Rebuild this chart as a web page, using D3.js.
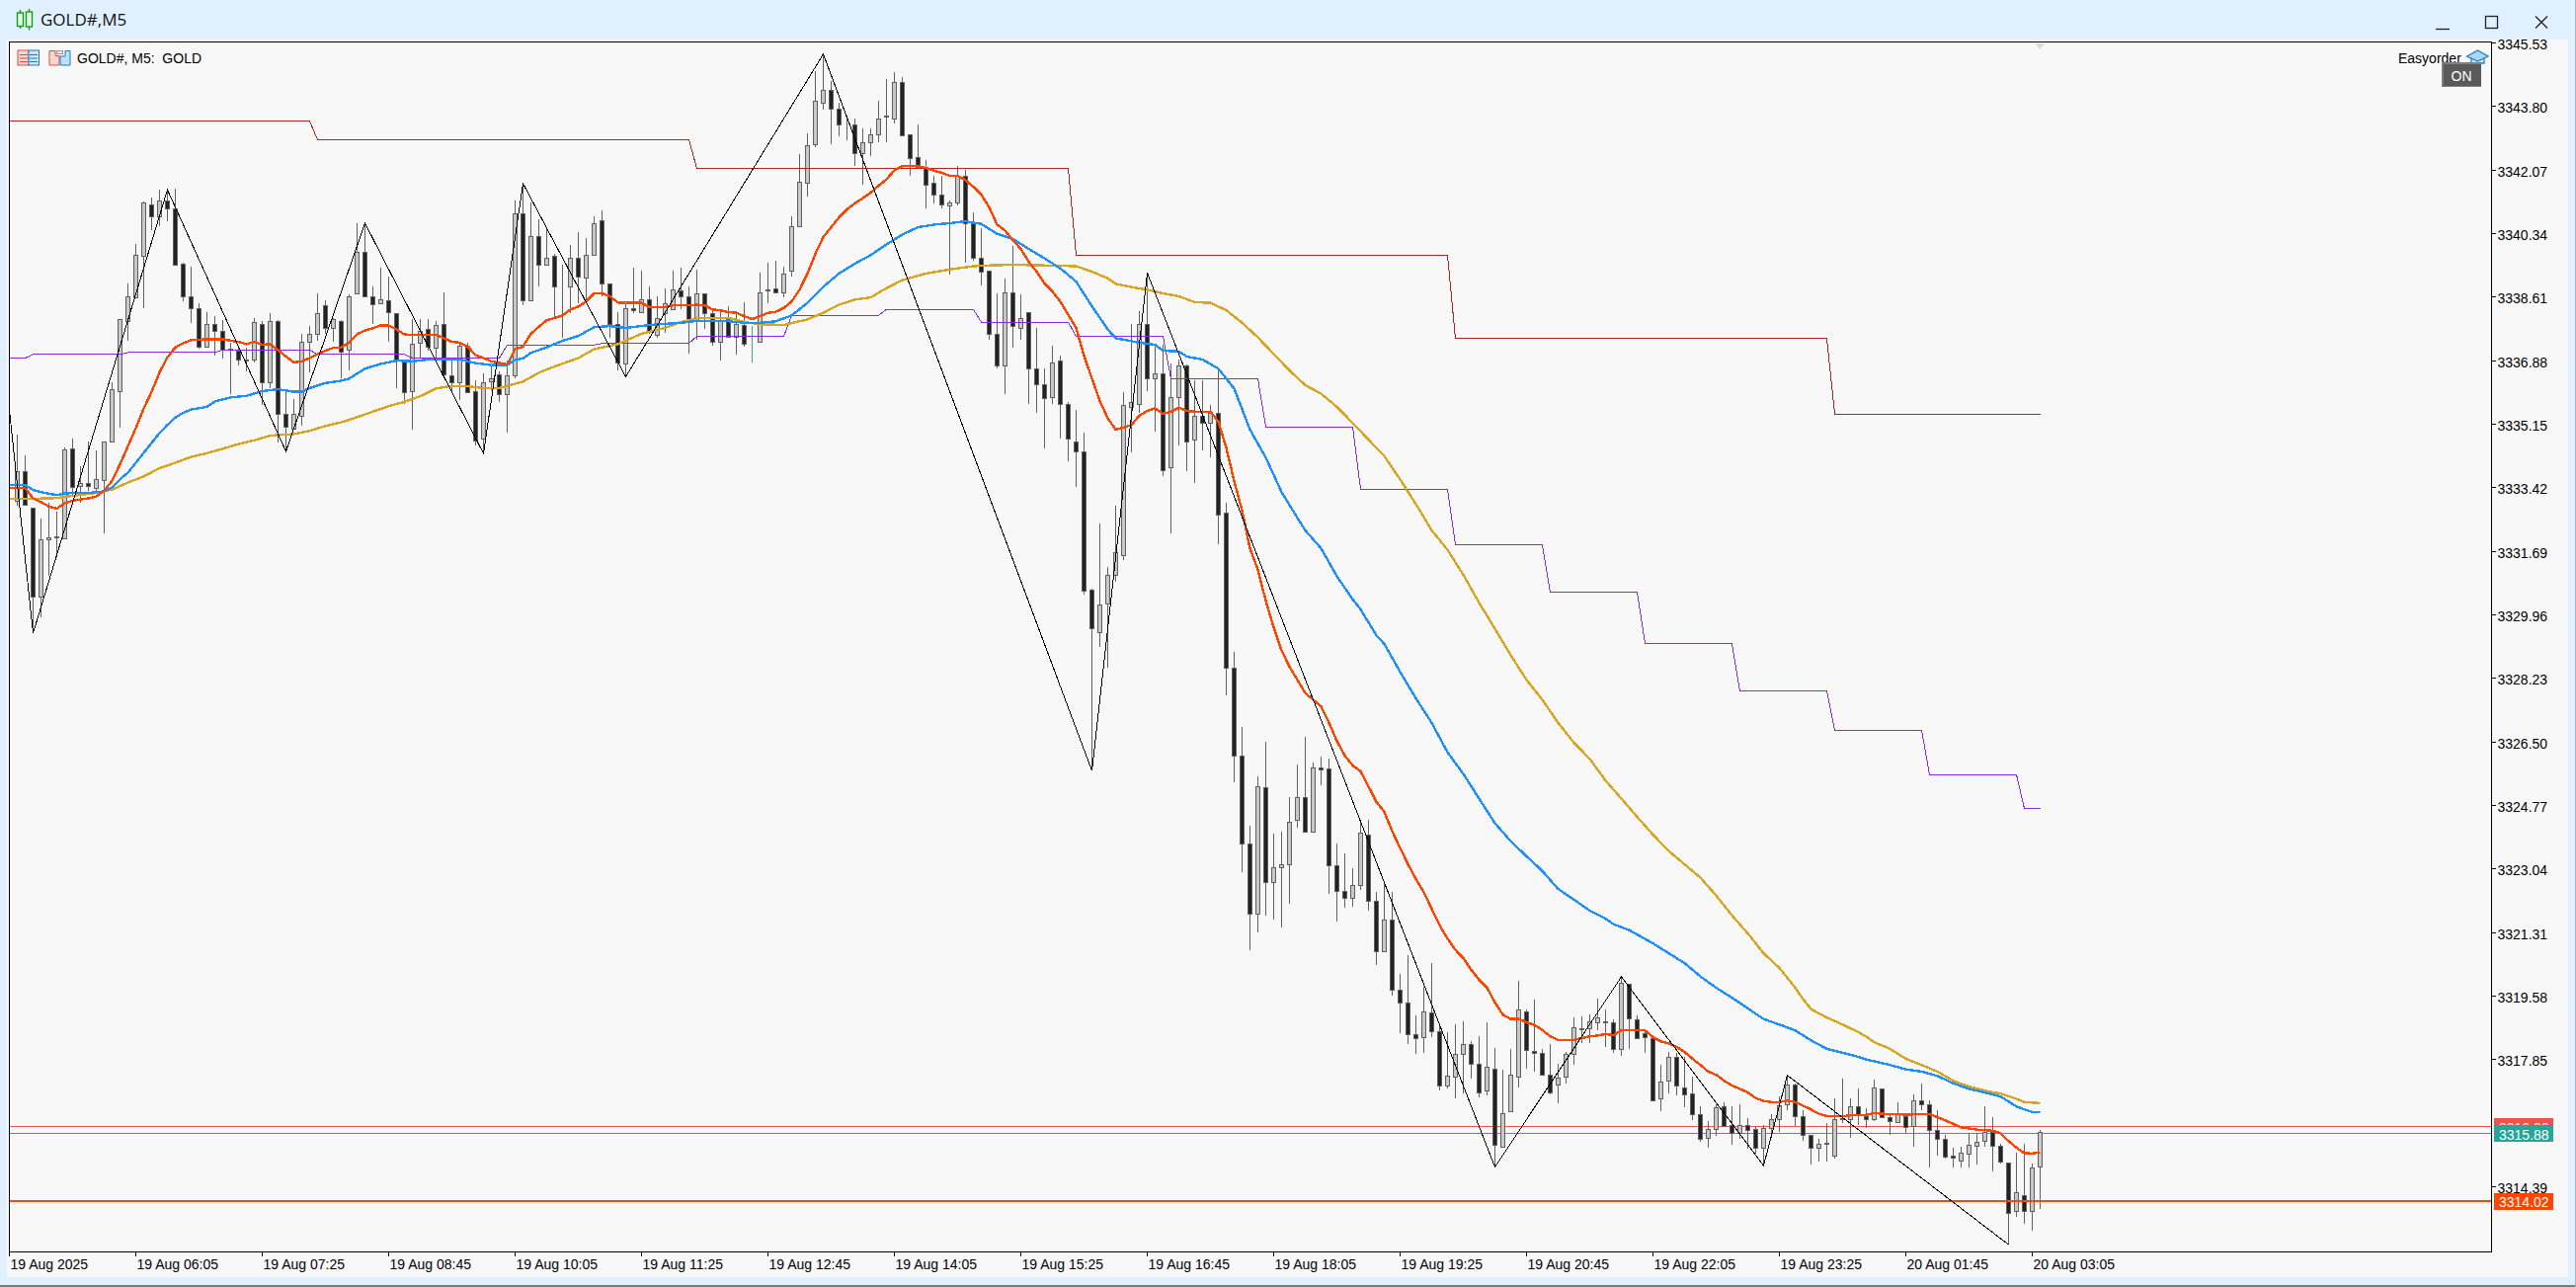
<!DOCTYPE html>
<html>
<head>
<meta charset="utf-8">
<title>GOLD#,M5</title>
<script src="https://cdn.jsdelivr.net/npm/d3@7/dist/d3.min.js"></script>
<style>
  html, body { margin: 0; padding: 0; background: #e0f0ff; overflow: hidden; }
  svg { display: block; }
  text { font-family: "Liberation Sans", Arial, sans-serif; font-size: 14px; fill: #000; }
</style>
</head>
<body>
<svg id="chart" width="2608" height="1303"></svg>
<script>
// Bars are numbered from the left edge of the window; bar 0 sits on the frame and is not drawn.
const firstBar = 1;
const opens = [
3333.07,3333.88,3332.87,3330.45,3332.01,3332.06,3332.05,3334.48,3333.46,3333.54,
3333.42,3333.63,3334.67,3336.05,3337.96,3338.61,3339.74,3341.14,3340.82,3341.25,
3341.03,3339.52,3338.64,3338.30,3337.26,3337.87,3337.70,3337.20,3337.15,3336.92,
3336.92,3337.87,3336.28,3337.97,3335.42,3335.04,3335.39,3337.40,3337.62,3338.38,
3337.77,3337.97,3337.17,3338.71,3339.83,3338.64,3338.43,3338.51,3338.16,3336.90,
3336.06,3337.37,3337.73,3337.24,3337.89,3336.48,3336.30,3337.28,3336.06,3334.75,
3336.32,3336.50,3335.96,3336.47,3340.89,3338.51,3340.27,3339.50,3339.72,3338.91,
3338.89,3339.69,3339.13,3339.77,3340.69,3338.97,3337.89,3336.79,3338.30,3338.21,
3338.56,3337.57,3338.16,3338.27,3338.78,3338.62,3337.97,3338.70,3338.16,3337.38,
3338.00,3337.54,3337.84,3337.39,3337.38,3338.78,3338.85,3338.75,3339.32,3340.53,
3341.71,3342.76,3343.91,3344.26,3343.73,3343.32,3343.32,3342.54,3342.81,3343.05,
3343.51,3343.48,3344.45,3343.03,3342.41,3342.14,3341.71,3341.41,3341.09,3341.17,
3341.90,3340.62,3339.69,3339.32,3337.60,3336.74,3338.75,3337.78,3338.19,3336.66,
3336.23,3335.88,3336.87,3335.71,3334.69,3334.42,3330.65,3329.48,3330.26,3331.04,
3331.58,3335.63,3335.71,3337.89,3336.41,3336.52,3333.99,3335.88,3336.74,3334.72,
3335.37,3335.18,3335.45,3332.73,3328.51,3326.12,3323.75,3321.82,3325.26,3322.70,
3323.08,3323.16,3324.37,3324.99,3324.05,3325.82,3325.77,3323.14,3322.44,3322.25,
3322.60,3323.99,3322.19,3320.80,3321.66,3319.76,3319.40,3318.54,3318.46,3319.13,
3318.62,3317.14,3317.38,3318.00,3318.27,3317.73,3317.01,3317.62,3315.49,3316.44,
3317.38,3319.18,3318.08,3318.03,3317.44,3317.17,3317.38,3318.00,3318.68,3318.70,
3318.86,3318.91,3318.86,3318.14,3319.91,3318.94,3318.57,3318.43,3316.79,3317.28,
3317.92,3317.11,3316.93,3316.36,3315.72,3315.96,3316.58,3316.07,3315.85,3316.07,
3315.96,3315.45,3315.99,3316.23,3316.63,3317.19,3316.33,3315.80,3315.45,3315.56,
3315.23,3316.23,3316.25,3316.58,3316.33,3316.23,3317.06,3316.28,3316.15,3316.33,
3316.04,3316.74,3316.63,3315.93,3315.69,3315.23,3315.10,3315.29,3315.50,3315.64,
3315.88,3315.50,3315.05,3313.73,3314.18,3313.73,3314.94];
const highs = [
3334.86,3334.30,3332.87,3332.58,3333.01,3332.77,3334.51,3334.76,3334.00,3334.67,
3334.43,3334.67,3336.30,3338.02,3338.98,3340.05,3341.21,3341.31,3341.54,3341.53,
3341.56,3339.54,3339.43,3338.44,3338.20,3338.09,3337.98,3337.37,3337.23,3337.24,
3338.04,3337.95,3338.17,3337.98,3336.07,3335.83,3337.62,3337.82,3338.70,3338.52,
3338.04,3337.98,3338.67,3340.62,3340.62,3338.89,3339.41,3339.16,3338.17,3336.91,
3338.01,3338.02,3338.02,3337.95,3338.73,3336.97,3337.34,3337.37,3336.34,3336.53,
3336.74,3336.58,3336.88,3341.23,3341.70,3341.18,3340.73,3340.46,3339.79,3339.48,
3340.04,3340.37,3340.21,3340.80,3340.96,3338.97,3338.20,3338.45,3339.41,3339.34,
3338.89,3338.63,3338.85,3339.32,3339.41,3338.91,3339.36,3338.71,3338.22,3338.22,
3338.36,3338.22,3338.46,3337.82,3339.27,3339.54,3339.59,3339.43,3340.80,3342.50,
3343.06,3344.76,3345.22,3344.49,3343.91,3343.51,3343.46,3343.21,3343.21,3343.94,
3344.54,3344.74,3344.60,3343.04,3343.30,3342.34,3341.91,3341.90,3341.25,3342.17,
3342.07,3340.91,3340.48,3339.32,3338.71,3339.10,3339.99,3338.67,3338.20,3337.76,
3336.66,3337.28,3337.01,3335.74,3335.53,3334.91,3330.67,3332.44,3331.26,3332.92,
3336.01,3337.87,3338.22,3339.27,3337.28,3337.30,3336.79,3336.91,3336.77,3336.34,
3336.34,3335.67,3336.66,3333.00,3328.95,3326.91,3324.22,3325.56,3326.50,3324.00,
3324.07,3324.99,3325.88,3326.64,3325.95,3326.10,3326.06,3323.75,3323.47,3323.06,
3324.29,3324.38,3322.41,3322.68,3322.41,3320.19,3320.69,3319.05,3319.83,3320.48,
3318.78,3318.60,3318.81,3318.91,3318.35,3318.49,3318.87,3318.17,3317.57,3318.15,
3320.01,3319.23,3319.50,3318.15,3318.29,3317.75,3318.06,3319.00,3319.03,3319.08,
3319.51,3319.21,3318.96,3320.12,3319.92,3319.05,3318.65,3318.44,3317.71,3318.06,
3318.04,3317.93,3317.39,3316.58,3316.18,3316.63,3316.70,3316.58,3316.63,3316.27,
3316.03,3316.07,3316.36,3316.85,3317.41,3317.20,3316.49,3315.80,3315.69,3316.14,
3316.79,3317.33,3316.79,3317.06,3316.52,3317.30,3317.07,3316.40,3316.69,3316.36,
3316.90,3317.20,3316.75,3316.49,3315.82,3315.45,3315.48,3315.87,3315.87,3316.58,
3316.29,3315.56,3315.06,3315.31,3315.56,3315.02,3315.93];
const lows = [
3332.93,3332.94,3329.46,3329.89,3331.02,3331.56,3332.04,3333.17,3333.01,3333.33,
3333.25,3332.17,3334.66,3335.06,3337.42,3338.60,3338.31,3340.43,3340.55,3340.67,
3339.49,3338.49,3337.91,3337.20,3337.25,3337.01,3336.93,3335.97,3336.74,3336.58,
3336.82,3335.67,3336.13,3334.65,3334.41,3335.04,3335.11,3336.56,3337.42,3337.61,
3337.40,3336.39,3336.61,3338.71,3338.64,3337.87,3338.43,3337.40,3336.12,3335.71,
3335.00,3336.93,3337.15,3336.93,3336.48,3336.05,3335.80,3336.02,3334.58,3334.35,
3336.07,3335.74,3334.91,3336.39,3338.40,3338.50,3338.89,3339.50,3338.04,3337.51,
3338.18,3338.45,3338.45,3339.76,3338.63,3337.51,3336.61,3336.44,3338.16,3338.18,
3337.61,3337.51,3337.64,3338.25,3338.27,3337.06,3337.46,3337.75,3337.28,3336.88,
3337.54,3337.03,3337.26,3336.83,3337.38,3338.45,3338.71,3338.61,3339.18,3340.52,
3341.35,3342.68,3343.71,3342.78,3342.99,3342.88,3342.17,3341.66,3342.46,3342.82,
3342.82,3343.33,3343.00,3341.92,3342.12,3341.03,3341.16,3341.03,3339.21,3341.09,
3339.54,3339.61,3338.93,3337.44,3336.66,3335.98,3337.22,3337.46,3335.69,3335.45,
3334.48,3335.69,3334.77,3334.14,3333.45,3330.52,3325.72,3329.08,3328.52,3330.85,
3331.46,3334.39,3335.46,3336.05,3334.94,3333.74,3332.17,3334.58,3333.88,3333.54,
3334.44,3334.24,3331.89,3327.77,3325.41,3322.96,3320.84,3321.31,3321.78,3321.67,
3321.46,3322.09,3324.18,3324.04,3324.04,3325.32,3322.36,3321.60,3321.99,3322.02,
3322.48,3321.91,3320.44,3320.77,3319.61,3318.58,3318.29,3318.00,3318.04,3318.48,
3317.01,3317.08,3316.79,3316.94,3317.34,3316.83,3316.87,3314.93,3315.46,3316.44,
3317.10,3317.61,3317.53,3317.43,3316.90,3316.67,3317.21,3317.71,3318.30,3318.30,
3318.65,3318.20,3318.04,3317.97,3318.15,3318.43,3318.04,3316.76,3316.45,3316.94,
3316.87,3316.57,3316.20,3315.62,3315.46,3315.78,3316.04,3315.54,3315.70,3315.42,
3315.29,3314.97,3315.78,3315.89,3316.49,3316.05,3315.64,3315.00,3315.08,3315.08,
3315.17,3316.14,3315.73,3316.07,3316.00,3316.17,3316.28,3315.81,3316.12,3315.87,
3315.49,3316.49,3314.93,3315.24,3315.15,3314.93,3314.93,3314.93,3315.00,3315.49,
3314.82,3315.02,3312.82,3313.58,3313.40,3313.21,3313.79];
const closes = [
3333.86,3332.95,3330.45,3332.01,3332.06,3332.11,3334.45,3333.45,3333.55,3333.46,
3333.65,3334.67,3336.09,3338.00,3338.63,3339.77,3341.17,3340.82,3341.25,3341.03,
3339.50,3338.64,3338.30,3337.26,3337.87,3337.70,3337.17,3337.17,3336.92,3336.89,
3337.94,3336.28,3337.97,3335.42,3335.07,3335.42,3337.40,3337.62,3338.18,3337.76,
3338.00,3337.13,3338.64,3339.83,3338.64,3338.42,3338.54,3338.20,3336.90,3336.03,
3337.35,3337.70,3337.26,3337.84,3336.50,3336.30,3337.28,3336.03,3334.71,3336.30,
3336.41,3335.96,3336.48,3340.89,3338.51,3340.27,3339.48,3339.69,3338.91,3338.89,
3339.67,3339.16,3339.75,3340.63,3338.97,3337.89,3336.82,3338.30,3338.24,3338.56,
3337.70,3338.03,3338.43,3338.81,3338.62,3338.00,3338.70,3338.16,3337.38,3337.97,
3337.54,3337.87,3337.35,3337.39,3338.74,3338.83,3338.75,3339.26,3340.53,3341.74,
3342.73,3343.94,3344.24,3343.75,3343.30,3343.30,3342.54,3342.81,3343.05,3343.48,
3343.54,3344.45,3343.00,3342.38,3342.15,3341.68,3341.39,3341.12,3341.17,3341.90,
3340.62,3339.67,3339.29,3337.60,3336.74,3338.75,3337.81,3338.03,3336.66,3336.25,
3335.85,3336.84,3335.71,3334.75,3334.42,3330.61,3329.59,3330.23,3331.06,3331.66,
3335.66,3335.74,3337.87,3336.41,3336.52,3333.91,3335.90,3336.76,3334.69,3335.37,
3335.18,3335.45,3332.70,3328.51,3326.12,3323.75,3321.84,3325.29,3322.68,3323.08,
3323.16,3324.34,3324.99,3324.05,3325.82,3325.74,3323.14,3322.44,3322.27,3322.60,
3324.02,3322.19,3320.82,3321.66,3319.75,3319.40,3318.54,3318.43,3319.16,3318.62,
3317.14,3317.41,3318.00,3318.27,3317.73,3316.95,3317.65,3315.53,3316.41,3317.44,
3319.21,3318.11,3318.05,3317.44,3316.95,3317.36,3318.00,3318.73,3318.71,3318.89,
3319.00,3318.86,3318.14,3319.94,3318.97,3318.43,3318.46,3316.76,3317.25,3317.92,
3317.14,3316.90,3316.36,3315.69,3315.96,3316.55,3316.04,3315.85,3316.07,3315.93,
3315.45,3315.99,3316.25,3316.60,3317.19,3316.33,3315.80,3315.45,3315.56,3315.59,
3316.25,3316.27,3316.58,3316.36,3316.23,3317.11,3316.28,3316.17,3316.36,3316.01,
3316.76,3316.63,3315.93,3315.69,3315.21,3315.20,3315.31,3315.53,3315.61,3315.90,
3315.50,3315.07,3313.67,3314.26,3313.73,3314.91,3315.88];

// Fast moving average, red
const fastBars = [0,2,3,4,5,6,7,8,9,10,11,12,13,14,15,16,17,18,19,20,21,22,23,25,27,29,30,31,32,33,34,35,36,37,38,39,40,41,42,43,44,45,46,47,48,49,50,52,54,55,56,57,58,59,60,61,62,63,64,65,66,67,68,69,70,71,72,73,74,75,76,77,78,80,81,83,84,86,87,88,89,90,91,92,93,94,95,96,97,98,99,100,101,102,103,104,105,106,107,108,109,110,111,112,113,114,115,116,117,118,119,120,121,122,123,124,125,126,127,128,129,130,131,132,133,134,135,136,137,138,139,140,141,142,143,144,145,146,147,148,149,150,152,153,154,155,156,157,158,159,160,161,162,163,164,165,166,167,168,169,170,171,172,173,174,175,176,177,178,179,180,181,182,183,184,185,186,187,188,189,190,191,192,193,194,195,196,197,198,199,200,201,202,203,204,205,207,208,209,210,211,212,213,214,215,216,217,218,219,220,221,222,223,224,225,226,227,228,229,230,232,233,235,236,237,240,243,244,245,246,247,248,249,251,252,253,254,255,256,257];
const fastValues = [3333.41,3333.41,3333.13,3333.03,3332.91,3332.85,3333.00,3333.07,3333.10,3333.13,3333.18,3333.34,3333.61,3334.06,3334.55,3335.04,3335.58,3336.03,3336.56,3336.97,3337.24,3337.35,3337.44,3337.46,3337.46,3337.39,3337.33,3337.39,3337.31,3337.33,3337.17,3336.99,3336.83,3336.86,3336.95,3337.06,3337.15,3337.23,3337.24,3337.37,3337.60,3337.70,3337.76,3337.84,3337.84,3337.73,3337.59,3337.58,3337.58,3337.49,3337.39,3337.37,3337.26,3337.03,3336.95,3336.86,3336.82,3336.77,3337.19,3337.26,3337.61,3337.80,3337.98,3338.04,3338.11,3338.27,3338.35,3338.49,3338.71,3338.71,3338.63,3338.46,3338.45,3338.45,3338.34,3338.34,3338.38,3338.38,3338.40,3338.38,3338.27,3338.25,3338.20,3338.18,3338.09,3338.01,3338.09,3338.18,3338.21,3338.31,3338.49,3338.81,3339.25,3339.79,3340.24,3340.51,3340.78,3341.00,3341.16,3341.30,3341.45,3341.64,3341.81,3342.06,3342.17,3342.17,3342.17,3342.12,3342.05,3341.99,3341.91,3341.91,3341.79,3341.61,3341.40,3341.05,3340.58,3340.42,3340.15,3339.92,3339.57,3339.30,3338.98,3338.76,3338.49,3338.13,3337.77,3337.01,3336.39,3335.78,3335.31,3335.00,3335.06,3335.13,3335.38,3335.51,3335.58,3335.43,3335.49,3335.60,3335.51,3335.49,3335.49,3335.22,3334.51,3333.60,3332.80,3331.77,3331.19,3330.34,3329.62,3328.99,3328.55,3328.19,3327.83,3327.65,3327.47,3327.02,3326.53,3326.13,3325.86,3325.70,3325.29,3324.87,3324.60,3324.07,3323.62,3323.17,3322.77,3322.41,3321.96,3321.51,3321.15,3320.84,3320.62,3320.30,3320.03,3319.81,3319.41,3319.08,3318.96,3318.96,3318.87,3318.80,3318.66,3318.49,3318.39,3318.38,3318.39,3318.44,3318.49,3318.51,3318.55,3318.52,3318.65,3318.66,3318.65,3318.47,3318.35,3318.30,3318.20,3318.06,3317.88,3317.71,3317.53,3317.44,3317.28,3317.15,3317.06,3316.96,3316.81,3316.73,3316.70,3316.70,3316.74,3316.70,3316.60,3316.50,3316.38,3316.32,3316.31,3316.34,3316.35,3316.40,3316.38,3316.36,3316.37,3316.29,3316.20,3316.11,3316.01,3315.98,3315.95,3315.92,3315.85,3315.64,3315.46,3315.31,3315.30,3315.33];

// Medium moving average, blue
const midBars = [0,2,3,4,6,7,10,12,13,14,15,16,17,18,19,20,21,22,23,25,26,28,30,32,34,36,37,38,40,42,43,45,47,49,51,53,57,59,61,63,64,65,66,68,70,72,74,76,78,81,85,87,91,93,95,97,99,101,103,105,107,109,111,113,115,117,119,121,123,125,127,129,131,133,135,137,139,140,143,145,146,148,149,151,153,155,157,159,161,163,164,166,168,170,171,173,174,176,178,180,182,184,186,188,190,192,194,196,198,200,202,203,205,208,210,212,214,216,218,220,222,224,226,228,230,232,234,235,236,238,240,242,244,246,248,250,252,254,255,256,257];
const midValues = [3333.49,3333.49,3333.36,3333.30,3333.22,3333.27,3333.28,3333.32,3333.43,3333.65,3333.83,3334.10,3334.37,3334.64,3334.91,3335.13,3335.33,3335.46,3335.55,3335.62,3335.77,3335.88,3335.92,3336.05,3336.10,3336.03,3336.03,3336.13,3336.27,3336.33,3336.39,3336.66,3336.79,3336.88,3336.86,3336.91,3336.91,3336.81,3336.76,3336.76,3336.90,3336.94,3337.09,3337.24,3337.42,3337.55,3337.79,3337.82,3337.77,3337.85,3337.91,3337.96,3337.95,3337.91,3337.91,3337.95,3338.11,3338.45,3338.89,3339.25,3339.52,3339.75,3340.04,3340.31,3340.51,3340.58,3340.62,3340.67,3340.60,3340.33,3340.19,3339.92,3339.66,3339.39,3339.03,3338.36,3337.73,3337.49,3337.37,3337.31,3337.15,3337.13,3336.99,3336.91,3336.66,3336.12,3335.00,3334.24,3333.30,3332.60,3332.26,3331.77,3331.01,3330.38,3330.11,3329.40,3329.17,3328.41,3327.69,3327.02,3326.22,3325.63,3324.96,3324.29,3323.80,3323.39,3322.99,3322.50,3322.21,3321.91,3321.69,3321.54,3321.38,3321.02,3320.75,3320.48,3320.12,3319.81,3319.54,3319.25,3318.96,3318.81,3318.65,3318.38,3318.15,3318.04,3317.93,3317.86,3317.81,3317.71,3317.59,3317.53,3317.41,3317.21,3317.06,3316.96,3316.85,3316.58,3316.50,3316.43,3316.42];

// Slow moving average, gold
const slowBars = [0,3,6,8,11,13,15,17,19,21,23,25,27,29,31,33,36,38,40,42,44,46,48,50,52,54,56,58,60,62,64,65,67,69,72,74,77,80,83,85,87,91,93,95,98,101,103,105,107,109,111,113,116,119,122,124,127,135,137,139,140,142,144,146,148,150,152,154,156,158,160,162,164,166,168,170,172,174,176,178,180,182,184,186,188,190,192,194,196,198,200,202,204,206,208,210,212,214,216,218,220,222,224,226,227,228,230,232,234,235,236,238,240,242,244,246,248,250,252,254,255,257];
const slowValues = [3333.12,3333.12,3333.14,3333.20,3333.28,3333.37,3333.56,3333.73,3333.95,3334.10,3334.26,3334.36,3334.48,3334.61,3334.71,3334.84,3334.88,3334.97,3335.10,3335.20,3335.34,3335.49,3335.64,3335.76,3335.91,3336.12,3336.19,3336.18,3336.13,3336.13,3336.25,3336.31,3336.55,3336.72,3336.95,3337.19,3337.33,3337.61,3337.77,3337.93,3338.03,3338.04,3337.93,3337.87,3337.85,3338.00,3338.18,3338.40,3338.54,3338.60,3338.85,3339.07,3339.25,3339.36,3339.45,3339.47,3339.49,3339.45,3339.30,3339.12,3338.97,3338.88,3338.81,3338.71,3338.63,3338.47,3338.45,3338.25,3337.91,3337.51,3337.06,3336.61,3336.21,3335.98,3335.62,3335.18,3334.73,3334.28,3333.65,3332.97,3332.26,3331.73,3331.05,3330.29,3329.58,3328.86,3328.19,3327.65,3327.02,3326.48,3326.04,3325.45,3324.96,3324.46,3323.98,3323.53,3323.17,3322.81,3322.32,3321.78,3321.29,3320.75,3320.35,3319.81,3319.50,3319.23,3319.00,3318.81,3318.60,3318.48,3318.33,3318.15,3317.88,3317.71,3317.53,3317.28,3317.12,3317.01,3316.93,3316.79,3316.70,3316.67];

// Stepped levels: [bar, level] pairs, each step slides over one bar
const upperBars = [0,38,39,86,87,134,135,182,183,230,231,257];
const upperLevels = [3343.40,3343.40,3342.89,3342.89,3342.11,3342.11,3339.75,3339.75,3337.48,3337.48,3335.43,3335.43];
const midStepBars = [0,2,3,14,15,26,27,38,39,50,51,62,63,74,75,86,87,98,99,110,111,122,123,134,135,146,147,158,159,170,171,182,183,194,195,206,207,218,219,230,231,242,243,254,255,257];
const midStepLevels = [3336.95,3336.95,3337.05,3337.05,3337.10,3337.10,3337.17,3337.17,3337.05,3337.05,3336.95,3336.95,3337.30,3337.30,3337.35,3337.35,3337.54,3337.54,3338.11,3338.11,3338.27,3338.27,3337.93,3337.93,3337.54,3337.54,3336.39,3336.39,3335.07,3335.07,3333.38,3333.38,3331.87,3331.87,3330.58,3330.58,3329.18,3329.18,3327.89,3327.89,3326.82,3326.82,3325.61,3325.61,3324.69,3324.69];

// Zigzag swing points
const zigzagBars = [0,3,20,35,45,60,65,78,103,137,144,188,204,222,225,253];
const zigzagPrices = [3335.53,3329.46,3341.53,3334.41,3340.62,3334.35,3341.70,3336.44,3345.22,3325.72,3339.27,3314.93,3320.11,3314.97,3317.43,3312.82];

// Axis labels; the scale step near the current price is taken by the price tags
const priceTicks = [3345.53,3343.80,3342.07,3340.34,3338.61,3336.88,3335.15,3333.42,3331.69,3329.96,3328.23,3326.50,3324.77,3323.04,3321.31,3319.58,3317.85,3314.39];
const timeTicks = [0,16,32,48,64,80,96,112,128,144,160,176,192,208,224,240,256];
const timeLabels = ["19 Aug 2025","19 Aug 06:05","19 Aug 07:25","19 Aug 08:45","19 Aug 10:05","19 Aug 11:25","19 Aug 12:45","19 Aug 14:05","19 Aug 15:25","19 Aug 16:45","19 Aug 18:05","19 Aug 19:25","19 Aug 20:45","19 Aug 22:05","19 Aug 23:25","20 Aug 01:45","20 Aug 03:05"];

// Current price lines
const askPrice = 3316.06, bidPrice = 3315.88, alertPrice = 3314.02;

const frame = { left: 9.5, top: 42.5, right: 2522.5, bottom: 1267.5 };
const colors = {
  window: "#e0f0ff", plot: "#f8f8f8",
  bullFill: "#c8c8c8", bearFill: "#222222", edge: "#606060", flat: "#3cb371",
  fast: "#ff4500", mid: "#1e90ff", slow: "#daa520",
  upper: "#b22222", step: "#8a2be2", zigzag: "#000000",
  ask: "#ef5350", bid: "#26a69a"
};

const x = d3.scaleLinear().domain([0, 256]).range([9.5, 2057.5]);
const y = d3.scaleLinear().domain([3345.53, 3314.39]).range([43.3, 1201.7]);
const snap = v => Math.ceil(v) + 0.5;

const svg = d3.select("#chart");

// Window chrome and plot background
svg.append("rect").attr("width", 2608).attr("height", 1303).attr("fill", colors.window);
svg.append("rect").attr("x", 7).attr("y", 40).attr("width", 2593).attr("height", 1253).attr("fill", colors.plot);
svg.append("rect").attr("x", 0).attr("y", 1301).attr("width", 2608).attr("height", 2).attr("fill", "#7a7a7a");
svg.append("rect").attr("x", 2607).attr("y", 0).attr("width", 1).attr("height", 1303).attr("fill", "#a8b4c0");

// Title bar
const titleIcon = svg.append("g").attr("stroke", "#12a012").attr("stroke-width", 1.4).attr("fill", "#e6fae6");
[[20.5, 10, 29, 13, 26.5], [29.5, 9, 30.5, 12, 27]].forEach(([cx, top, bottom, bodyTop, bodyBottom]) => {
  titleIcon.append("line").attr("x1", cx).attr("x2", cx).attr("y1", top).attr("y2", bottom);
  titleIcon.append("rect").attr("x", cx - 3).attr("y", bodyTop).attr("width", 6).attr("height", bodyBottom - bodyTop);
});
svg.append("text").attr("x", 41).attr("y", 25.5).text("GOLD#,M5")
  .style("font-family", '"Open Sans", "Noto Sans", sans-serif').style("font-size", "17px").style("fill", "#111");
const controls = svg.append("g").attr("stroke", "#222").attr("stroke-width", 1.3).attr("fill", "none");
controls.append("line").attr("x1", 2466).attr("x2", 2480).attr("y1", 29.5).attr("y2", 29.5);
controls.append("rect").attr("x", 2516.5).attr("y", 16.5).attr("width", 12).attr("height", 12);
controls.append("path").attr("d", "M2567 16.5L2579 28.5M2579 16.5L2567 28.5");

// Plot contents are clipped to the frame
const defs = svg.append("defs");
defs.append("clipPath").attr("id", "plot-clip").append("rect")
  .attr("x", frame.left).attr("y", frame.top)
  .attr("width", frame.right - frame.left).attr("height", frame.bottom - frame.top);
const plot = svg.append("g").attr("clip-path", "url(#plot-clip)");

const hLine = (price, color, width) => plot.append("line")
  .attr("x1", frame.left).attr("x2", frame.right)
  .attr("y1", snap(y(price)) - (width > 1 ? 0.5 : 0)).attr("y2", snap(y(price)) - (width > 1 ? 0.5 : 0))
  .attr("stroke", color).attr("stroke-width", width).attr("shape-rendering", "crispEdges");

hLine(askPrice, colors.ask, 1);
hLine(bidPrice, colors.bid, 1);

// Candles
const bars = d3.range(opens.length).map(k => ({
  bar: firstBar + k, open: opens[k], high: highs[k], low: lows[k], close: closes[k]
}));
const candle = plot.append("g").attr("shape-rendering", "crispEdges")
  .selectAll("g").data(bars).join("g");
const candleEdge = d => d.open === d.close ? colors.flat : colors.edge;
candle.append("line")
  .attr("x1", d => x(d.bar)).attr("x2", d => x(d.bar))
  .attr("y1", d => Math.round(y(d.high))).attr("y2", d => Math.round(y(d.low)))
  .attr("stroke", candleEdge);
candle.append("rect")
  .attr("x", d => x(d.bar) - 2).attr("width", 4)
  .attr("y", d => Math.round(y(Math.max(d.open, d.close))) + 0.5)
  .attr("height", d => Math.max(0, Math.round(y(Math.min(d.open, d.close))) - Math.round(y(Math.max(d.open, d.close)))))
  .attr("fill", d => d.close >= d.open ? colors.bullFill : colors.bearFill)
  .attr("stroke", candleEdge);

// Indicator lines
const path = d3.line().x(d => x(d[0])).y(d => y(d[1]));
const drawLine = (barsList, values, color, width) => plot.append("path")
  .attr("d", path(d3.zip(barsList, values)))
  .attr("fill", "none").attr("stroke", color).attr("stroke-width", width)
  .attr("shape-rendering", "crispEdges");

drawLine(upperBars, upperLevels, colors.upper, 1);
drawLine(midStepBars, midStepLevels, colors.step, 1);
drawLine(slowBars, slowValues, colors.slow, 2.4);
drawLine(midBars, midValues, colors.mid, 2.4);
drawLine(fastBars, fastValues, colors.fast, 2.4);
hLine(alertPrice, colors.fast, 2);
drawLine(zigzagBars, zigzagPrices, colors.zigzag, 1);

// Axes
const yAxis = d3.axisRight(y).tickValues(priceTicks).tickSize(4).tickPadding(2).tickFormat(d3.format(".2f")).offset(0);
const yAxisG = svg.append("g").attr("transform", `translate(${frame.right},0)`).call(yAxis);
yAxisG.select(".domain").remove();
yAxisG.selectAll("line").attr("stroke", "#000").attr("shape-rendering", "crispEdges");
yAxisG.selectAll("text").attr("dy", null).attr("y", 6.5).style("font-family", '"Liberation Sans", Arial, sans-serif').style("font-size", "14px");

const xAxis = d3.axisBottom(x).tickValues(timeTicks).tickSize(4).tickFormat((d, i) => timeLabels[i]).offset(0);
const xAxisG = svg.append("g").attr("transform", `translate(0,${frame.bottom})`).call(xAxis);
xAxisG.select(".domain").remove();
xAxisG.selectAll("line").attr("stroke", "#000").attr("shape-rendering", "crispEdges");
xAxisG.selectAll("text").attr("dy", null).attr("y", 17.5).attr("x", 1).attr("text-anchor", "start")
  .style("font-family", '"Liberation Sans", Arial, sans-serif').style("font-size", "14px");

// Frame
svg.append("rect").attr("x", frame.left).attr("y", frame.top)
  .attr("width", frame.right - frame.left).attr("height", frame.bottom - frame.top)
  .attr("fill", "none").attr("stroke", "#000").attr("shape-rendering", "crispEdges");

// Price tags on the right scale; the bid tag sits over the ask tag
const tag = (top, height, fill, price, baseline) => {
  svg.append("rect").attr("x", 2525).attr("y", top).attr("width", 60).attr("height", height).attr("fill", fill);
  svg.append("text").attr("x", 2530).attr("y", baseline).text(price.toFixed(2)).style("fill", "#fff");
};
tag(1132, 17, colors.ask, askPrice, 1146.5);
tag(1139, 17, colors.bid, bidPrice, 1153.5);
tag(1208, 17, colors.fast, alertPrice, 1221.7);

// Toolbar icons and legend
const tableIcon = svg.append("g");
tableIcon.append("rect").attr("x", 18).attr("y", 51).attr("width", 11).attr("height", 15).attr("fill", "#fbd6d0").attr("stroke", "#e04848");
tableIcon.append("rect").attr("x", 29).attr("y", 51).attr("width", 10.5).attr("height", 15).attr("fill", "#cfe6fa").attr("stroke", "#1f78c0");
[55.5, 59, 62.5].forEach(ly => {
  tableIcon.append("line").attr("x1", 20).attr("x2", 28).attr("y1", ly).attr("y2", ly).attr("stroke", "#e04848");
  tableIcon.append("line").attr("x1", 30).attr("x2", 38).attr("y1", ly).attr("y2", ly).attr("stroke", "#1f78c0");
});
const setIcon = svg.append("g");
setIcon.append("path").attr("d", "M50 51.5H56V56.5H60V66H50Z").attr("fill", "#fbd6d0").attr("stroke", "#e04848");
setIcon.append("path").attr("d", "M61 66V57H66V51.5H71V66Z").attr("fill", "#bfe2fa").attr("stroke", "#1f78c0");
setIcon.append("rect").attr("x", 57.5).attr("y", 51.5).attr("width", 6).attr("height", 3).attr("fill", "#e8e8e8").attr("stroke", "#999");
svg.append("text").attr("x", 78).attr("y", 64).text("GOLD#, M5:\u00a0\u00a0GOLD");

// Expert advisor badge
svg.append("text").attr("x", 2428).attr("y", 64).text("Easyorder");
const cap = svg.append("g");
cap.append("path").attr("d", "M2502 58V64H2515V58").attr("fill", "#d6ecfa").attr("stroke", "#1f7fc8").attr("stroke-width", 1.3);
cap.append("path").attr("d", "M2497.5 57L2508.5 51L2519 57L2508.5 62Z").attr("fill", "#a8d8f4").attr("stroke", "#1f7fc8").attr("stroke-width", 1.3);
svg.append("rect").attr("x", 2472).attr("y", 63).attr("width", 40).attr("height", 25).attr("fill", "#808080");
svg.append("rect").attr("x", 2474).attr("y", 65).attr("width", 38).attr("height", 22).attr("fill", "#5a5a5a");
svg.append("text").attr("x", 2492).attr("y", 82).attr("text-anchor", "middle").text("ON").style("fill", "#fff");

// Chart-shift marker at the top of the plot
svg.append("path").attr("d", "M2060 44H2070L2065 50Z").attr("fill", "#dcdcdc");
</script>
</body>
</html>
